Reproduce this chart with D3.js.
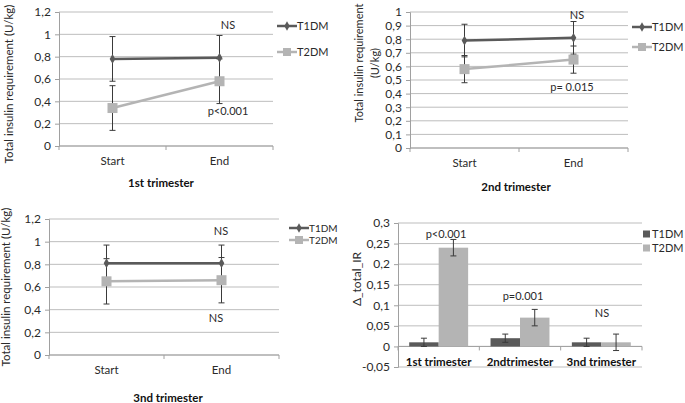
<!DOCTYPE html>
<html>
<head>
<meta charset="utf-8">
<script src="https://cdn.jsdelivr.net/npm/d3@7"></script>
<style>
  html, body { margin: 0; padding: 0; background: #fff; }
  svg { display: block; font-family: Lato, "Open Sans", sans-serif; }
</style>
</head>
<body>
<svg id="chart" width="685" height="403"></svg>
<script>
// ---------------- DATA ----------------
const timepoints = ["Start", "End"];
const seriesNames = ["T1DM", "T2DM"];

// 1st trimester
const tri1_T1 = [0.78, 0.79];
const tri1_T1_err = [0.20, 0.20];
const tri1_T2 = [0.34, 0.58];
const tri1_T2_err = [0.20, 0.20];
const tri1_ticks = [0, 0.2, 0.4, 0.6, 0.8, 1, 1.2];

// 2nd trimester
const tri2_T1 = [0.79, 0.81];
const tri2_T1_err = [0.12, 0.12];
const tri2_T2 = [0.58, 0.65];
const tri2_T2_err = [0.10, 0.10];
const tri2_ticks = [0, 0.1, 0.2, 0.3, 0.4, 0.5, 0.6, 0.7, 0.8, 0.9, 1];

// 3rd trimester
const tri3_T1 = [0.81, 0.81];
const tri3_T1_err = [0.16, 0.16];
const tri3_T2 = [0.65, 0.66];
const tri3_T2_err = [0.20, 0.20];
const tri3_ticks = [0, 0.2, 0.4, 0.6, 0.8, 1, 1.2];

// Delta total IR (bar chart)
const trimesters = ["1st trimester", "2ndtrimester", "3nd trimester"];
const delta_T1 = [0.01, 0.02, 0.01];
const delta_T1_err = [0.01, 0.01, 0.01];
const delta_T2 = [0.24, 0.07, 0.01];
const delta_T2_err = [0.02, 0.02, 0.02];
const delta_ticks = [-0.05, 0, 0.05, 0.1, 0.15, 0.2, 0.25, 0.3];

// ---------------- STYLE ----------------
const C_T1 = "#5a5a5a";
const C_T2 = "#b4b4b4";
const C_GRID = "#bdbdbd";
const C_AXIS = "#a0a0a0";
const C_ERR = "#3a3a3a";
const C_TEXT = "#2a2a2a";

const fmt = d => String(+d.toFixed(2)).replace(".", ",");

const svg = d3.select("#chart");

function yAxisAndGrid(g, y, ticks, x0, x1) {
  g.append("g").selectAll("line").data(ticks).join("line")
    .attr("x1", x0).attr("x2", x1)
    .attr("y1", d => y(d)).attr("y2", d => y(d))
    .attr("stroke", C_GRID).attr("stroke-width", 1);
  const ax = g.append("g").attr("transform", `translate(${x0},0)`)
    .call(d3.axisLeft(y).tickValues(ticks).tickFormat(fmt).tickSize(4).tickPadding(4));
  ax.select(".domain").attr("stroke", C_AXIS);
  ax.selectAll(".tick line").attr("stroke", C_AXIS);
  ax.selectAll("text").attr("fill", C_TEXT).style("font-size", "12px").style("font-family", "Lato, 'Open Sans', sans-serif");
}

function linePanel(opts) {
  const g = svg.append("g");
  const x = d3.scaleBand().domain(timepoints).range([opts.x0, opts.x1]);
  const y = d3.scaleLinear().domain(opts.domain).range([opts.yBottom, opts.yTop]);
  yAxisAndGrid(g, y, opts.ticks, opts.x0, opts.x1);

  // x axis
  const y0 = y(0);
  g.append("line").attr("x1", opts.x0).attr("x2", opts.x1).attr("y1", y0).attr("y2", y0)
    .attr("stroke", C_AXIS);
  const bounds = [opts.x0].concat(timepoints.map(t => x(t) + x.bandwidth()));
  g.selectAll(".xt").data(bounds).join("line")
    .attr("x1", d => d).attr("x2", d => d).attr("y1", y0).attr("y2", y0 + 4).attr("stroke", C_AXIS);
  g.selectAll(".xl").data(timepoints).join("text")
    .attr("x", d => x(d) + x.bandwidth() / 2).attr("y", y0 + 19)
    .attr("text-anchor", "middle").attr("fill", C_TEXT).style("font-size", "11.5px").text(d => d);

  const cx = d => x(d) + x.bandwidth() / 2;
  const series = [
    { name: "T1DM", vals: opts.t1, err: opts.t1e, color: C_T1, shape: "diamond" },
    { name: "T2DM", vals: opts.t2, err: opts.t2e, color: C_T2, shape: "square" }
  ];
  const line = d3.line().x((d, i) => cx(timepoints[i])).y(d => y(d));
  series.slice().reverse().forEach(s => {
    g.append("path").datum(s.vals).attr("d", line).attr("fill", "none")
      .attr("stroke", s.color).attr("stroke-width", 2.5);
  });
  // error bars
  series.forEach(s => {
    s.vals.forEach((v, i) => {
      const xx = cx(timepoints[i]);
      const lo = y(v - s.err[i]), hi = y(v + s.err[i]);
      g.append("line").attr("x1", xx).attr("x2", xx).attr("y1", lo).attr("y2", hi).attr("stroke", C_ERR).attr("stroke-width", 1);
      [lo, hi].forEach(yy => g.append("line").attr("x1", xx - 3).attr("x2", xx + 3).attr("y1", yy).attr("y2", yy).attr("stroke", C_ERR).attr("stroke-width", 1));
    });
  });
  // markers
  series.forEach(s => {
    s.vals.forEach((v, i) => {
      const xx = cx(timepoints[i]), yy = y(v);
      if (s.shape === "diamond") {
        g.append("path").attr("d", d3.symbol(d3.symbolDiamond, 28)()).attr("transform", `translate(${xx},${yy})`)
          .attr("fill", s.color);
      } else {
        g.append("rect").attr("x", xx - 5).attr("y", yy - 5).attr("width", 10).attr("height", 10).attr("fill", s.color);
      }
    });
  });

  // legend
  const lfs = opts.legFont || 11;
  series.forEach((s, i) => {
    const ly = opts.legY[i];
    g.append("line").attr("x1", opts.legX).attr("x2", opts.legX + 20).attr("y1", ly).attr("y2", ly)
      .attr("stroke", s.color).attr("stroke-width", 2.5);
    if (s.shape === "diamond") {
      g.append("path").attr("d", d3.symbol(d3.symbolDiamond, 26)()).attr("transform", `translate(${opts.legX + 10},${ly})`).attr("fill", s.color);
    } else {
      g.append("rect").attr("x", opts.legX + 6).attr("y", ly - 4).attr("width", 8).attr("height", 8).attr("fill", s.color);
    }
    g.append("text").attr("x", opts.legX + 20).attr("y", ly + lfs * 0.36).attr("fill", C_TEXT)
      .style("font-size", lfs + "px").text(s.name);
  });

  // y title
  const yt = g.append("text").attr("transform", `translate(${opts.ytX},${opts.ytY}) rotate(-90)`)
    .attr("text-anchor", "middle").attr("fill", C_TEXT).style("font-size", (opts.ytFont || 11.5) + "px");
  opts.ytLines.forEach((l, i) => yt.append("tspan").attr("x", 0).attr("dy", i === 0 ? 0 : 16).text(l));

  // x title
  g.append("text").attr("x", opts.titleX).attr("y", opts.titleY).attr("text-anchor", "middle")
    .attr("fill", "#111").style("font-size", "11.5px").style("font-weight", "bold").text(opts.title);

  // annotations
  opts.notes.forEach(n => g.append("text").attr("x", n.x).attr("y", n.y).attr("text-anchor", "middle")
    .attr("fill", C_TEXT).style("font-size", "11px").text(n.t));
}

linePanel({
  x0: 59, x1: 273, yBottom: 146, yTop: 12, domain: [0, 1.2], ticks: tri1_ticks,
  t1: tri1_T1, t1e: tri1_T1_err, t2: tri1_T2, t2e: tri1_T2_err,
  legX: 277, legY: [26, 52],
  ytX: 13, ytY: 84, ytLines: ["Total insulin requirement  (U/kg)"],
  titleX: 161, titleY: 187, title: "1st trimester",
  notes: [{ x: 228, y: 29, t: "NS" }, { x: 228, y: 115, t: "p<0.001" }]
});

linePanel({
  x0: 410, x1: 628, yBottom: 148, yTop: 12, domain: [0, 1], ticks: tri2_ticks,
  t1: tri2_T1, t1e: tri2_T1_err, t2: tri2_T2, t2e: tri2_T2_err,
  legX: 632, legY: [27, 47],
  ytX: 363, ytY: 63, ytFont: 11, ytLines: ["Total insulin requirement", "(U/kg)"],
  titleX: 516, titleY: 191, title: "2nd trimester",
  notes: [{ x: 577, y: 19, t: "NS" }, { x: 572, y: 91, t: "p= 0.015" }]
});

linePanel({
  x0: 49, x1: 279, yBottom: 355, yTop: 219, domain: [0, 1.2], ticks: tri3_ticks,
  t1: tri3_T1, t1e: tri3_T1_err, t2: tri3_T2, t2e: tri3_T2_err,
  legX: 289, legY: [228, 240], legFont: 10,
  ytX: 10, ytY: 287, ytLines: ["Total insulin requirement (U/kg)"],
  titleX: 168, titleY: 402, title: "3nd trimester",
  notes: [{ x: 221, y: 235, t: "NS" }, { x: 216, y: 322, t: "NS" }]
});

// ---------------- BAR PANEL ----------------
(function () {
  const g = svg.append("g");
  const x0 = 398, x1 = 642;
  const x = d3.scaleBand().domain(trimesters).range([x0, x1]);
  const xs = d3.scaleBand().domain(seriesNames).range([0, x.bandwidth()]).paddingInner(0).paddingOuter(0.38);
  const y = d3.scaleLinear().domain([-0.05, 0.3]).range([367, 223]);
  yAxisAndGrid(g, y, delta_ticks, x0, x1);

  const yz = y(0);
  g.append("line").attr("x1", x0).attr("x2", x1).attr("y1", yz).attr("y2", yz).attr("stroke", C_AXIS);
  const bounds = [x0].concat(trimesters.map(t => x(t) + x.bandwidth()));
  g.selectAll(".xt").data(bounds).join("line")
    .attr("x1", d => d).attr("x2", d => d).attr("y1", yz).attr("y2", yz + 4).attr("stroke", C_AXIS);

  const sets = [
    { name: "T1DM", vals: delta_T1, err: delta_T1_err, color: C_T1 },
    { name: "T2DM", vals: delta_T2, err: delta_T2_err, color: C_T2 }
  ];
  sets.forEach(s => {
    s.vals.forEach((v, i) => {
      const bx = x(trimesters[i]) + xs(s.name);
      g.append("rect").attr("x", bx).attr("width", xs.bandwidth())
        .attr("y", y(Math.max(0, v))).attr("height", Math.abs(y(v) - y(0))).attr("fill", s.color);
    });
  });
  sets.forEach(s => {
    s.vals.forEach((v, i) => {
      const cx = x(trimesters[i]) + xs(s.name) + xs.bandwidth() / 2;
      const lo = y(v - s.err[i]), hi = y(v + s.err[i]);
      g.append("line").attr("x1", cx).attr("x2", cx).attr("y1", lo).attr("y2", hi).attr("stroke", C_ERR);
      [lo, hi].forEach(yy => g.append("line").attr("x1", cx - 3).attr("x2", cx + 3).attr("y1", yy).attr("y2", yy).attr("stroke", C_ERR));
    });
  });

  g.selectAll(".cl").data(trimesters).join("text")
    .attr("x", d => x(d) + x.bandwidth() / 2).attr("y", 366)
    .attr("text-anchor", "middle").attr("fill", "#111")
    .style("font-size", "11.5px").style("font-weight", "bold").text(d => d);

  // legend
  sets.forEach((s, i) => {
    const ly = [234, 248][i];
    g.append("rect").attr("x", 643).attr("y", ly - 3.5).attr("width", 7).attr("height", 7).attr("fill", s.color);
    g.append("text").attr("x", 652).attr("y", ly + 4).attr("fill", C_TEXT).style("font-size", "11px").text(s.name);
  });

  g.append("text").attr("transform", "translate(361,279) rotate(-90)").attr("text-anchor", "middle")
    .attr("fill", C_TEXT).style("font-size", "12px").text("Δ_total_IR");

  [{ x: 446, y: 238, t: "p<0.001" }, { x: 523, y: 300, t: "p=0.001" }, { x: 602, y: 317, t: "NS" }]
    .forEach(n => g.append("text").attr("x", n.x).attr("y", n.y).attr("text-anchor", "middle")
      .attr("fill", C_TEXT).style("font-size", "11px").text(n.t));
})();
</script>
</body>
</html>
